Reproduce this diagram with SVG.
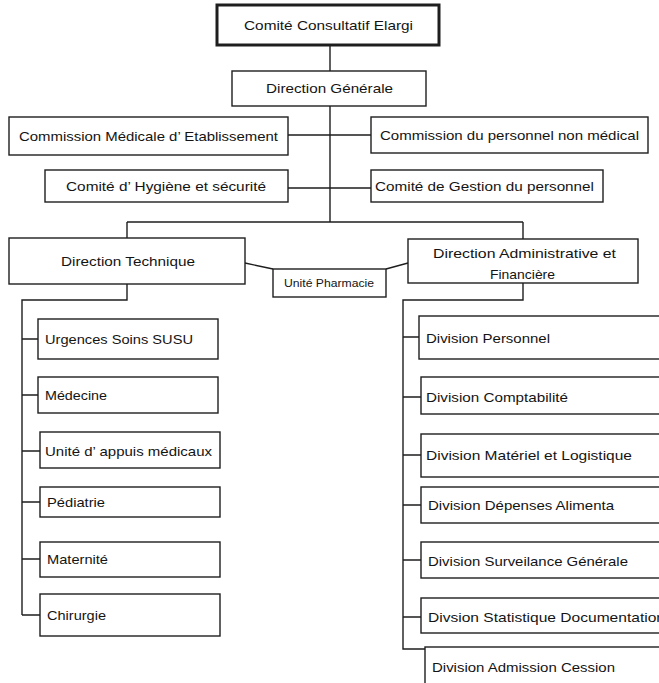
<svg xmlns="http://www.w3.org/2000/svg" width="659" height="683" viewBox="0 0 659 683">
<style>
.b{fill:#fff;stroke:#1e1e1e;stroke-width:1.4}
.thick{fill:#fff;stroke:#1e1e1e;stroke-width:3}
.t{font-family:"Liberation Sans",Arial,sans-serif;font-size:13.5px;fill:#141414}
.s{font-family:"Liberation Sans",Arial,sans-serif;font-size:11px;fill:#141414}
.c{fill:none;stroke:#1e1e1e;stroke-width:1.4}
</style>
<rect width="659" height="683" fill="#fff"/>
<g id="connectors">
<path class="c" d="M330 45V71M330 106V222M288 135H371M288 188H371M127 222H523M127 222V238M523 222V239"/>
<path class="c" d="M245 263L273 269M386 269L408 263"/>
<path class="c" d="M127 284V300H22V615M22 339H38M22 395H38M22 451H40M22 502H40M22 559H40M22 615H40"/>
<path class="c" d="M523 283V300H403V649H425M403 337H419M403 397H421M403 455H421M403 505H421M403 560H421M403 617H421"/>
</g>
<g id="n-comite-consultatif"><rect class="thick" x="217" y="5" width="222" height="40"/><text class="t" x="244" y="30" textLength="169" lengthAdjust="spacingAndGlyphs">Comité Consultatif Elargi</text></g>
<g id="n-direction-generale"><rect class="b" x="232" y="71" width="194" height="35"/><text class="t" x="266" y="93" textLength="127" lengthAdjust="spacingAndGlyphs">Direction Générale</text></g>
<g id="n-commission-medicale"><rect class="b" x="9" y="117" width="279" height="38"/><text class="t" x="19" y="141" textLength="259" lengthAdjust="spacingAndGlyphs">Commission Médicale d’ Etablissement</text></g>
<g id="n-commission-personnel"><rect class="b" x="371" y="117" width="277" height="36"/><text class="t" x="380" y="140" textLength="259" lengthAdjust="spacingAndGlyphs">Commission du personnel non médical</text></g>
<g id="n-comite-hygiene"><rect class="b" x="45" y="170" width="243" height="32"/><text class="t" x="66" y="191" textLength="200" lengthAdjust="spacingAndGlyphs">Comité d’ Hygiène et sécurité</text></g>
<g id="n-comite-gestion"><rect class="b" x="371" y="170" width="232" height="32"/><text class="t" x="375" y="191" textLength="219" lengthAdjust="spacingAndGlyphs">Comité de Gestion du personnel</text></g>
<g id="n-direction-technique"><rect class="b" x="9" y="238" width="236" height="46"/><text class="t" x="61" y="266" textLength="134" lengthAdjust="spacingAndGlyphs">Direction Technique</text></g>
<g id="n-unite-pharmacie"><rect class="b" x="273" y="269" width="113" height="28"/><text class="s" x="284" y="287" textLength="90" lengthAdjust="spacingAndGlyphs">Unité Pharmacie</text></g>
<g id="n-direction-administrative"><rect class="b" x="408" y="239" width="230" height="44"/><text class="t" x="433" y="258" textLength="183" lengthAdjust="spacingAndGlyphs">Direction Administrative et</text><text class="t" x="490" y="279" textLength="65" lengthAdjust="spacingAndGlyphs">Financière</text></g>
<g id="n-urgences"><rect class="b" x="38" y="319" width="180" height="40"/><text class="t" x="45" y="344" textLength="148" lengthAdjust="spacingAndGlyphs">Urgences Soins SUSU</text></g>
<g id="n-medecine"><rect class="b" x="38" y="377" width="180" height="36"/><text class="t" x="45" y="400" textLength="62" lengthAdjust="spacingAndGlyphs">Médecine</text></g>
<g id="n-appuis"><rect class="b" x="40" y="432" width="180" height="36"/><text class="t" x="45" y="456" textLength="167" lengthAdjust="spacingAndGlyphs">Unité d’ appuis médicaux</text></g>
<g id="n-pediatrie"><rect class="b" x="40" y="487" width="180" height="30"/><text class="t" x="47" y="507" textLength="58" lengthAdjust="spacingAndGlyphs">Pédiatrie</text></g>
<g id="n-maternite"><rect class="b" x="40" y="542" width="180" height="35"/><text class="t" x="47" y="564" textLength="61" lengthAdjust="spacingAndGlyphs">Maternité</text></g>
<g id="n-chirurgie"><rect class="b" x="40" y="594" width="180" height="42"/><text class="t" x="47" y="620" textLength="59" lengthAdjust="spacingAndGlyphs">Chirurgie</text></g>
<g id="n-div-personnel"><rect class="b" x="419" y="316" width="260" height="43"/><text class="t" x="426" y="343" textLength="124" lengthAdjust="spacingAndGlyphs">Division Personnel</text></g>
<g id="n-div-comptabilite"><rect class="b" x="421" y="377" width="260" height="37"/><text class="t" x="426" y="402" textLength="142" lengthAdjust="spacingAndGlyphs">Division Comptabilité</text></g>
<g id="n-div-materiel"><rect class="b" x="421" y="434" width="260" height="43"/><text class="t" x="426" y="460" textLength="206" lengthAdjust="spacingAndGlyphs">Division Matériel et Logistique</text></g>
<g id="n-div-depenses"><rect class="b" x="421" y="487" width="260" height="36"/><text class="t" x="428" y="510" textLength="186" lengthAdjust="spacingAndGlyphs">Division Dépenses Alimenta</text></g>
<g id="n-div-surveilance"><rect class="b" x="421" y="542" width="260" height="36"/><text class="t" x="428" y="566" textLength="200" lengthAdjust="spacingAndGlyphs">Division Surveilance Générale</text></g>
<g id="n-div-statistique"><rect class="b" x="421" y="598" width="260" height="35"/><text class="t" x="428" y="622" textLength="237" lengthAdjust="spacingAndGlyphs">Divsion Statistique Documentation</text></g>
<g id="n-div-admission"><rect class="b" x="425" y="647" width="260" height="50"/><text class="t" x="432" y="672" textLength="183" lengthAdjust="spacingAndGlyphs">Division Admission Cession</text></g>
</svg>
